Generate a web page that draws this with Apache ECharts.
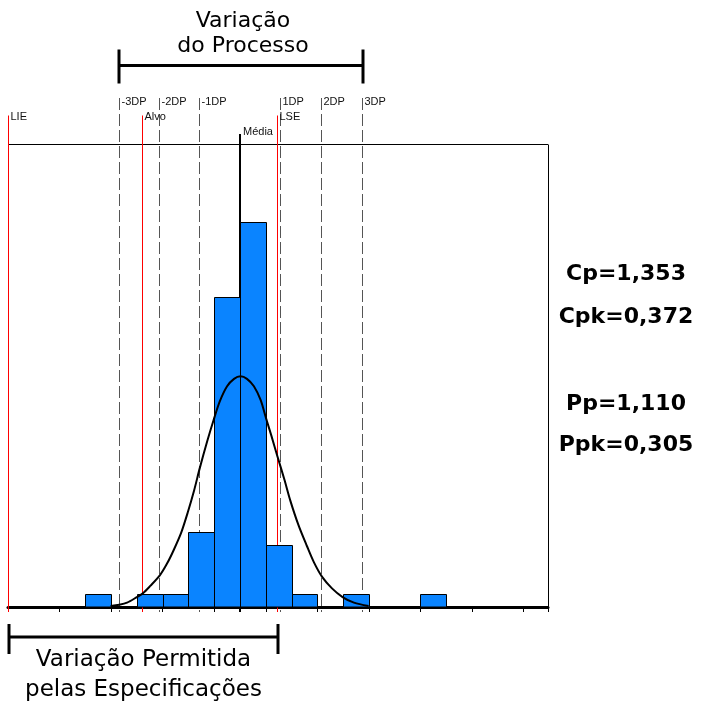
<!DOCTYPE html>
<html>
<head>
<meta charset="utf-8">
<script src="https://cdn.jsdelivr.net/npm/echarts@6/dist/echarts.min.js"></script>
<style>
html,body{margin:0;padding:0;background:#fff;}
#main{width:721px;height:715px;}
</style>
</head>
<body>
<div id="main"></div>
<script>
// ---- data (x in bin units, y in counts) ----
const binStarts = [3, 5, 6, 7, 8, 9, 10, 11, 13, 16];
const binEnds   = [4, 6, 7, 8, 9, 10, 11, 12, 14, 17];
const counts    = [1, 1, 1, 6, 25, 31, 5, 1, 1, 1];

const curveX = [3.96, 4.3, 4.6, 4.98, 5.21, 5.5, 5.87, 6.15, 6.41, 6.7, 6.95, 7.2, 7.42, 7.7, 7.96, 8.2, 8.48, 8.75, 9.0, 9.25, 9.52, 9.78, 9.98, 10.2, 10.44, 10.7, 10.93, 11.25, 11.58, 11.85, 12.16, 12.55, 12.96, 13.4, 13.97];
const curveY = [0.08, 0.18, 0.35, 0.8, 1.1, 1.7, 2.55, 3.5, 4.6, 6.0, 7.6, 9.4, 11.2, 13.3, 15.1, 16.6, 17.8, 18.4, 18.6, 18.4, 17.8, 16.7, 15.3, 13.8, 12.1, 10.3, 8.6, 6.6, 4.9, 3.6, 2.45, 1.5, 0.8, 0.35, 0.08];

const dpLabels = ['-3DP', '-2DP', '-1DP', '1DP', '2DP', '3DP'];
const dpValues = [4.295, 5.868, 7.419, 10.546, 12.147, 13.752];
const specLabels = ['LIE', 'Alvo', 'LSE'];
const specValues = [0, 5.21, 10.44];
const meanLabel = 'Média';
const meanValue = 9.0;

const indexLabels = ['Cp=1,353', 'Cpk=0,372', 'Pp=1,110', 'Ppk=0,305'];
const processTitle = ['Variação', 'do Processo'];
const specTitle = ['Variação Permitida', 'pelas Especificações'];

const xMin = -0.02;
const xMax = 20.93;
const yMax = 37.3;

// ---- chart ----
const chart = echarts.init(document.getElementById('main'), null, {renderer: 'canvas'});
const crisp = v => Math.round(v - 0.5) + 0.5;
const labelFont = '11px "Liberation Sans", Arial, sans-serif';
const handFont = '"DejaVu Sans", sans-serif';

function refLineRenderer(labels, topOff, labelOff, color, dash, width) {
  return function (params, api) {
    const x = api.value(0);
    const bottom = api.coord([x, 0]);
    const top = api.coord([x, yMax]);
    const px = crisp(bottom[0]);
    const y0 = top[1] - topOff;
    const lineStyle = {stroke: color, lineWidth: width};
    if (dash) lineStyle.lineDash = dash;
    return {
      type: 'group',
      children: [
        {type: 'line', shape: {x1: px, y1: y0, x2: px, y2: bottom[1] + 5}, style: lineStyle},
        {type: 'text', x: px + 2, y: top[1] - labelOff,
         style: {text: labels[params.dataIndex], font: labelFont, fill: '#111',
                 textAlign: 'left', textVerticalAlign: 'middle'}}
      ]
    };
  };
}

const option = {
  animation: false,
  grid: {left: 8, right: 173, top: 144.5, bottom: 108, show: false},
  xAxis: {
    type: 'value', min: xMin, max: xMax, interval: 2,
    axisLine: {show: true, onZero: false, lineStyle: {color: '#000', width: 3}},
    axisTick: {show: true, length: 5, lineStyle: {color: '#000', width: 1}},
    axisLabel: {show: false},
    splitLine: {show: false}
  },
  yAxis: {
    type: 'value', min: 0, max: yMax, show: false,
    axisLine: {show: false}, axisTick: {show: false}, axisLabel: {show: false},
    splitLine: {show: false}
  },
  series: [
    {
      type: 'custom', name: 'frame', clip: false, z: 1,
      data: [[xMin, xMax]],
      encode: {x: [0, 1]},
      renderItem: function (params, api) {
        const tl = api.coord([api.value(0), yMax]);
        const tr = api.coord([api.value(1), yMax]);
        const br = api.coord([api.value(1), 0]);
        const st = {stroke: '#000', lineWidth: 1};
        return {type: 'group', children: [
          {type: 'line', shape: {x1: tl[0], y1: crisp(tl[1]), x2: tr[0], y2: crisp(tr[1])}, style: st},
          {type: 'line', shape: {x1: crisp(tr[0]), y1: tr[1], x2: crisp(br[0]), y2: br[1]}, style: st}
        ]};
      }
    },
    {
      type: 'custom', name: 'dp', clip: false, z: 1,
      data: dpValues.map(v => [v]),
      encode: {x: 0},
      renderItem: refLineRenderer(dpLabels, 46.5, 42.5, '#555', [12, 4], 1)
    },
    {
      type: 'custom', name: 'spec', clip: false, z: 1.5,
      data: specValues.map(v => [v]),
      encode: {x: 0},
      renderItem: refLineRenderer(specLabels, 29, 28, '#ff0000', null, 1)
    },
    {
      type: 'custom', name: 'mean', clip: false, z: 1,
      data: [[meanValue]],
      encode: {x: 0},
      renderItem: function (params, api) {
        const b = api.coord([meanValue, 0]);
        const t = api.coord([meanValue, yMax]);
        const px = Math.round(b[0]);
        return {type: 'group', children: [
          {type: 'line', shape: {x1: px, y1: t[1] - 10.5, x2: px, y2: b[1] + 5},
           style: {stroke: '#000', lineWidth: 2}},
          {type: 'text', x: px + 3, y: t[1] - 12.5,
           style: {text: meanLabel, font: labelFont, fill: '#111',
                   textAlign: 'left', textVerticalAlign: 'middle'}}
        ]};
      }
    },
    {
      type: 'custom', name: 'hist', z: 2, clip: false,
      data: binStarts.map((s, i) => [s, binEnds[i], counts[i]]),
      encode: {x: [0, 1], y: 2},
      renderItem: function (params, api) {
        const p0 = api.coord([api.value(0), api.value(2)]);
        const p1 = api.coord([api.value(1), 0]);
        const x0 = crisp(p0[0]), x1 = crisp(p1[0]);
        const y0 = crisp(p0[1]), y1 = p1[1];
        return {type: 'rect', shape: {x: x0, y: y0, width: x1 - x0, height: y1 - y0},
                style: {fill: '#0a84ff', stroke: '#000', lineWidth: 1}};
      }
    },
    {
      type: 'line', name: 'normal', z: 3,
      data: curveX.map((x, i) => [x, curveY[i]]),
      smooth: 0.3, symbol: 'none',
      lineStyle: {color: '#000', width: 2}
    },
    {
      type: 'custom', name: 'brackets', clip: false, z: 4,
      data: [[dpValues[0], dpValues[dpValues.length - 1], 0], [specValues[0], specValues[2], 1]],
      encode: {x: [0, 1]},
      renderItem: function (params, api) {
        const a = api.coord([api.value(0), 0]);
        const b = api.coord([api.value(1), 0]);
        const t = api.coord([api.value(0), yMax]);
        const which = api.value(2);
        let yh, yt, yb, lines, cy;
        if (which === 0) { yh = t[1] - 79; yt = t[1] - 95; yb = t[1] - 61; lines = processTitle; cy = [21, 46]; }
        else { yh = a[1] + 30; yt = a[1] + 17; yb = a[1] + 47; lines = specTitle; cy = [660, 690]; }
        const x0 = Math.round(a[0]), x1 = Math.round(b[0]);
        const st = {stroke: '#000', lineWidth: 3};
        const mid = which === 0 ? (x0 + x1) / 2 + 2 : (x0 + x1) / 2;
        const fs = which === 0 ? 22 : 23;
        return {type: 'group', children: [
          {type: 'line', shape: {x1: x0, y1: yh, x2: x1, y2: yh}, style: st},
          {type: 'line', shape: {x1: x0, y1: yt, x2: x0, y2: yb}, style: st},
          {type: 'line', shape: {x1: x1, y1: yt, x2: x1, y2: yb}, style: st},
          {type: 'text', x: mid, y: cy[0], style: {text: lines[0], font: fs + 'px ' + handFont, fill: '#000', textAlign: 'center', textVerticalAlign: 'middle'}},
          {type: 'text', x: mid, y: cy[1], style: {text: lines[1], font: fs + 'px ' + handFont, fill: '#000', textAlign: 'center', textVerticalAlign: 'middle'}}
        ]};
      }
    }
  ]
};

const idxY = [274, 317, 404, 445];
option.graphic = indexLabels.map((t, i) => ({
  type: 'text', x: 626, y: idxY[i],
  style: {text: t, font: 'bold 22px ' + handFont, fill: '#000', textAlign: 'center', textVerticalAlign: 'middle'}
}));

chart.setOption(option);
</script>
</body>
</html>
